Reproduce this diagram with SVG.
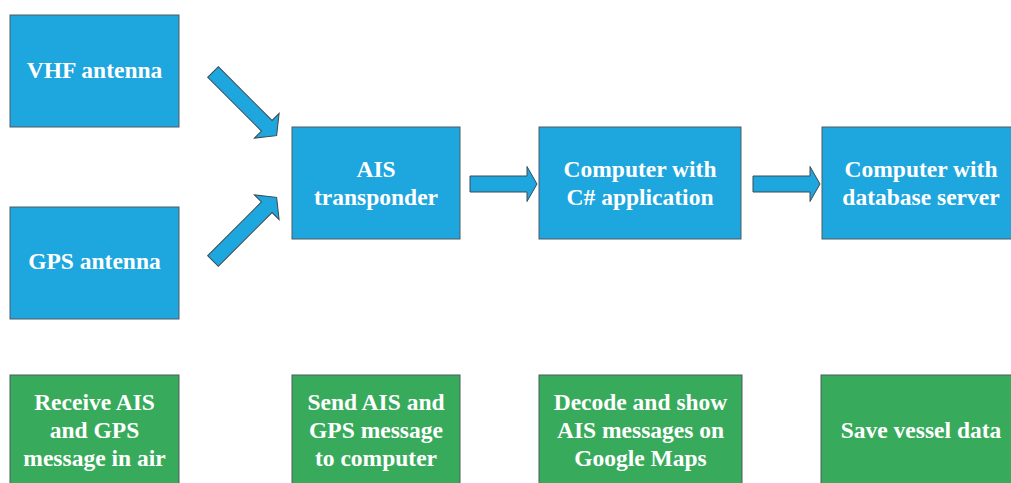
<svg xmlns="http://www.w3.org/2000/svg" width="1011" height="483" viewBox="0 0 1011 483">
<style>
.b{fill:#1ea6de;stroke:#4f5a60;stroke-width:1}
.g{fill:#37ab5b;stroke:#4f5a60;stroke-width:1}
.t{font-family:"Liberation Serif","Times New Roman",serif;font-weight:bold;font-size:23.5px;fill:#ffffff;text-anchor:middle}
.a{fill:#1ea6de;stroke:#3d4a52;stroke-width:1}
</style>
<defs>
<path id="arr" d="M0,-7.5 H76 V-17.5 L90,0 L76,17.5 V7.5 H0 Z"/>
<path id="harr" d="M0,-8 H57 V-17.5 L67,0 L57,17.5 V8 H0 Z"/>
</defs>
<rect width="1011" height="483" fill="#ffffff"/>
<g id="vhf"><rect class="b" x="10" y="15" width="169" height="112"/><text class="t" x="94.5" y="78">VHF antenna</text></g>
<g id="gps"><rect class="b" x="10" y="207" width="169" height="112"/><text class="t" x="94.5" y="269">GPS antenna</text></g>
<g id="ais"><rect class="b" x="292" y="127" width="168" height="112"/><text class="t" x="376" y="177">AIS</text><text class="t" x="376" y="205">transponder</text></g>
<g id="csharp"><rect class="b" x="539" y="127" width="202" height="112"/><text class="t" x="640" y="177">Computer with</text><text class="t" x="640" y="205">C# application</text></g>
<g id="db"><rect class="b" x="822" y="127" width="198" height="112"/><text class="t" x="921" y="177">Computer with</text><text class="t" x="921" y="205">database server</text></g>
<g id="receive"><rect class="g" x="10" y="375" width="169" height="115"/><text class="t" x="94.5" y="410">Receive AIS</text><text class="t" x="94.5" y="438">and GPS</text><text class="t" x="94.5" y="466">message in air</text></g>
<g id="send"><rect class="g" x="292" y="375" width="168" height="115"/><text class="t" x="376" y="410">Send AIS and</text><text class="t" x="376" y="438">GPS message</text><text class="t" x="376" y="466">to computer</text></g>
<g id="decode"><rect class="g" x="539" y="375" width="203" height="115"/><text class="t" x="640.5" y="410">Decode and show</text><text class="t" x="640.5" y="438">AIS messages on</text><text class="t" x="640.5" y="466">Google Maps</text></g>
<g id="save"><rect class="g" x="821" y="375" width="200" height="115"/><text class="t" x="921" y="438">Save vessel data</text></g>
<g id="connectors">
<use href="#arr" class="a" transform="translate(213,72) rotate(45)"/>
<use href="#arr" class="a" transform="translate(213,261) rotate(-45)"/>
<use href="#harr" class="a" transform="translate(470,184)"/>
<use href="#harr" class="a" transform="translate(753,184)"/>
</g>
</svg>
